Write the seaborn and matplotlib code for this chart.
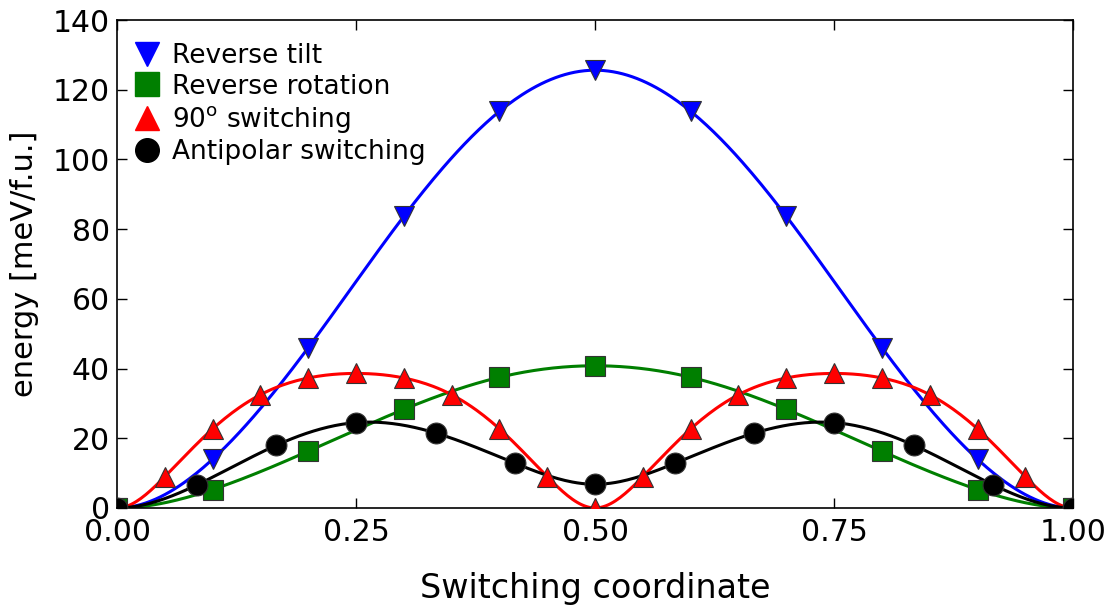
import numpy as np
import matplotlib
matplotlib.use("Agg")
import matplotlib.pyplot as plt
import seaborn as sns

# ---- data ----
tilt_x = [0.0, 0.1, 0.2, 0.3, 0.4, 0.5, 0.6, 0.7, 0.8, 0.9, 1.0]
tilt_y = [0.0, 14.0, 46.0, 83.7, 113.8, 125.6, 113.8, 83.7, 46.0, 14.0, 0.0]

rot_x = [0.0, 0.1, 0.2, 0.3, 0.4, 0.5, 0.6, 0.7, 0.8, 0.9, 1.0]
rot_y = [0.0, 5.3, 16.3, 28.3, 37.5, 40.8, 37.5, 28.3, 16.3, 5.3, 0.0]

sw90_x = [0.0, 0.05, 0.1, 0.15, 0.2, 0.25, 0.3, 0.35, 0.4, 0.45, 0.5,
          0.55, 0.6, 0.65, 0.7, 0.75, 0.8, 0.85, 0.9, 0.95, 1.0]
sw90_y = [0.0, 9.0, 22.7, 32.5, 37.3, 38.6, 37.3, 32.5, 22.7, 9.0, 0.0,
          9.0, 22.7, 32.5, 37.3, 38.6, 37.3, 32.5, 22.7, 9.0, 0.0]

anti_x = [0.0, 1/12, 2/12, 3/12, 4/12, 5/12, 6/12, 7/12, 8/12, 9/12, 10/12, 11/12, 1.0]
anti_y = [0.0, 6.6, 18.0, 24.5, 21.5, 12.8, 6.8, 12.8, 21.5, 24.5, 18.0, 6.6, 0.0]

labels = ["Reverse tilt", "Reverse rotation", "90$^{\\mathrm{o}}$ switching", "Antipolar switching"]
colors = ["#0000ff", "#007f00", "#ff0000", "#000000"]
markers = ["v", "s", "^", "o"]


def clamped_spline(x, y, n=400):
    """Clamped cubic spline (zero end slopes) through the data points."""
    x = np.asarray(x, float)
    y = np.asarray(y, float)
    m = len(x)
    h = np.diff(x)
    A = np.zeros((m, m))
    b = np.zeros(m)
    A[0, 0] = 2 * h[0]; A[0, 1] = h[0]
    b[0] = 3 * ((y[1] - y[0]) / h[0])
    A[-1, -2] = h[-1]; A[-1, -1] = 2 * h[-1]
    b[-1] = 3 * (-(y[-1] - y[-2]) / h[-1])
    for i in range(1, m - 1):
        A[i, i - 1] = h[i - 1]
        A[i, i] = 2 * (h[i - 1] + h[i])
        A[i, i + 1] = h[i]
        b[i] = 3 * ((y[i + 1] - y[i]) / h[i] - (y[i] - y[i - 1]) / h[i - 1])
    c = np.linalg.solve(A, b)
    bb = (y[1:] - y[:-1]) / h - h * (2 * c[:-1] + c[1:]) / 3
    d = (c[1:] - c[:-1]) / (3 * h)
    xs = np.linspace(x[0], x[-1], n)
    idx = np.clip(np.searchsorted(x, xs, side="right") - 1, 0, m - 2)
    dx = xs - x[idx]
    ys = y[idx] + bb[idx] * dx + c[idx] * dx ** 2 + d[idx] * dx ** 3
    return xs, ys


sns.set_theme(style="white")
plt.rcParams["font.family"] = ["DejaVu Sans"]
plt.rcParams["mathtext.default"] = "regular"
plt.rcParams["text.color"] = "black"
plt.rcParams["axes.labelcolor"] = "black"

fig = plt.figure(figsize=(11.19, 6.08), dpi=100)
ax = fig.add_axes([0.1046, 0.1645, 0.8544, 0.8026])

series = [(tilt_x, tilt_y), (rot_x, rot_y), (sw90_x, sw90_y), (anti_x, anti_y)]
handles = []
for (xv, yv), lab, col, mk in zip(series, labels, colors, markers):
    xs, ys = clamped_spline(xv, yv)
    sns.lineplot(x=xs, y=ys, ax=ax, color=col, linewidth=2.2, sort=False, zorder=2)
    ax.plot(xv, yv, linestyle="none", marker=mk, markersize=15,
            markerfacecolor=col, markeredgecolor="#333333", markeredgewidth=0.8,
            zorder=3)
    h, = ax.plot([], [], linestyle="none", marker=mk, markersize=17,
                 markerfacecolor=col, markeredgecolor=col, label=lab)
    handles.append(h)

ax.set_xlim(0, 1)
ax.set_ylim(0, 140)
ax.set_xticks([0.0, 0.25, 0.5, 0.75, 1.0])
ax.set_xticklabels(["0.00", "0.25", "0.50", "0.75", "1.00"])
ax.set_yticks(np.arange(0, 141, 20))
ax.tick_params(direction="in", length=7, width=1, labelsize=21.5,
               top=True, right=True, bottom=True, left=True, colors="black")
ax.tick_params(axis="y", pad=5)
ax.tick_params(axis="x", pad=7)
for s in ax.spines.values():
    s.set_visible(True)
    s.set_color("black")
    s.set_linewidth(1.2)

ax.set_xlabel("Switching coordinate", fontsize=24, labelpad=18, color="black")
ax.set_ylabel("energy [meV/f.u.]", fontsize=22, labelpad=10, color="black")

leg = ax.legend(handles=handles, loc="upper left", frameon=False, fontsize=19,
                numpoints=1, handlelength=0.9, handletextpad=0.5,
                labelspacing=0.16, borderaxespad=0.3, bbox_to_anchor=(0.0, 0.99))
for t in leg.get_texts():
    t.set_color("black")

fig.savefig("out.png", dpi=100, facecolor="white")
